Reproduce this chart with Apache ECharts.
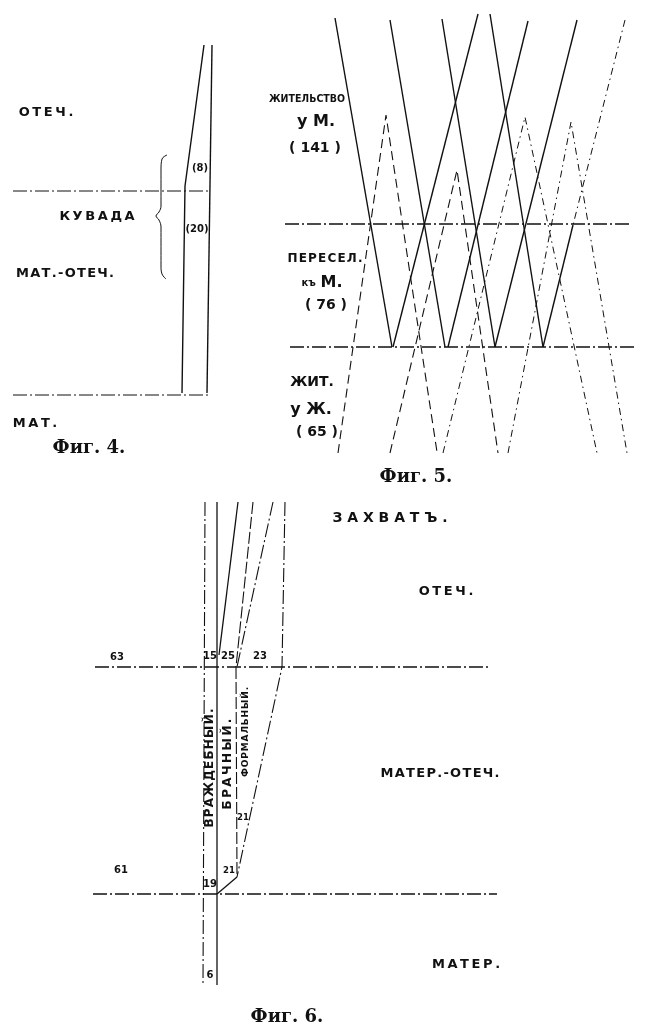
<!DOCTYPE html>
<html>
<head>
<meta charset="utf-8">
<script src="https://cdn.jsdelivr.net/npm/echarts@6/dist/echarts.min.js"></script>
<style>
html, body { margin: 0; padding: 0; background: #fff; }
#main { width: 652px; height: 1036px; }
</style>
</head>
<body>
<div id="main"></div>
<script>
// ---- Фиг. 4 ----
var fig4Solid = [
    [[212, 45], [207, 393]],
    [[204, 45], [185, 186], [182, 393]]
];
var fig4Rules = [
    [[13, 191], [210, 191]],
    [[13, 395], [208, 395]]
];
var fig4Brace = [[167, 155], [162, 159], [161, 170], [161, 206], [159, 212], [156, 216],
    [159, 220], [161, 227], [161, 266], [162, 274], [166, 279]];
var fig4Labels = [['ОТЕЧ.', 46, 113], ['КУВАДА', 97, 217], ['МАТ.', 35, 424]];
var fig4Tight = [['МАТ.-ОТЕЧ.', 65, 274]];
var fig4Counts = [['(8)', 200, 168], ['(20)', 197, 229]];

// ---- Фиг. 5 ----
var fig5Solid = [
    [[335, 18], [392, 347]],
    [[390, 20], [445, 347]],
    [[393, 347], [478, 14]],
    [[442, 19], [495, 347]],
    [[490, 14], [543, 347]],
    [[528, 21], [448, 347]],
    [[577, 20], [495, 347]],
    [[573, 225], [543, 347]]
];
var fig5DashDot = [
    [[625, 20], [573, 225]],
    [[443, 453], [525, 117], [597, 453]],
    [[508, 453], [571, 122], [627, 453]]
];
var fig5Dashed = [
    [[338, 453], [386, 115], [437, 452]],
    [[390, 453], [457, 170], [498, 453]]
];
var fig5Rules = [
    [[285, 224], [630, 224]],
    [[290, 347], [637, 347]]
];
var fig5Small = [['ЖИТЕЛЬСТВО', 307, 99]];
var fig5Mid = [['ПЕРЕСЕЛ.', 325, 259]];
var fig5Big = [['у М.', 316, 122], ['у Ж.', 311, 410]];
var fig5Counts = [['( 141 )', 315, 148], ['( 76 )', 326, 305], ['ЖИТ.', 312, 382], ['( 65 )', 317, 432]];
var fig5Rich = [['{s|къ} {b|М.}', 322, 283]];

// ---- Фиг. 6 ----
var fig6Solid = [
    [[217, 502], [217, 985]],
    [[238, 502], [219, 655]],
    [[237, 877], [217, 894]]
];
var fig6Dashed = [
    [[253, 502], [236, 667]],
    [[236, 667], [237, 877]]
];
var fig6DashDot = [
    [[205, 502], [203, 985]],
    [[273, 502], [237, 667]],
    [[285, 502], [282, 667], [237, 877]]
];
var fig6Rules = [
    [[95, 667], [490, 667]],
    [[93, 894], [497, 894]]
];
var fig6Titles = [['ЗАХВАТЪ.', 390, 518]];
var fig6Zones = [['ОТЕЧ.', 446, 592], ['МАТЕР.', 466, 965]];
var fig6ZonesTight = [['МАТЕР.-ОТЕЧ.', 440, 774]];
var fig6Numbers = [['63', 117, 657], ['15', 210, 656], ['25', 228, 656], ['23', 260, 656],
    ['61', 121, 870], ['19', 210, 884], ['6', 210, 975]];
var fig6Tiny = [['21', 243, 818], ['21', 229, 871]];
var fig6Vertical = [['ВРАЖДЕБНЫЙ.', 210, 768]];
var fig6VerticalWide = [['БРАЧНЫЙ.', 228, 764]];
var fig6VerticalSmall = [['ФОРМАЛЬНЫЙ.', 246, 732]];

var captions = [['Фиг. 4.', 89, 448], ['Фиг. 5.', 416, 477], ['Фиг. 6.', 287, 1017]];

var INK = '#111111';
var DASH = [9, 5];
var DASH_DOT = [14, 3, 2, 3];
var DASH_DOT_LIGHT = [7, 4, 1.5, 4];

function spaced(s, gap) {
    return s.split('').join(gap);
}

function lineSeries(list, type, width, smooth) {
    return list.map(function (pts) {
        return {
            type: 'line', data: pts, symbol: 'none', silent: true, animation: false,
            smooth: smooth || false, z: 2,
            lineStyle: { color: INK, width: width, type: type }
        };
    });
}

function textSeries(list, font, extra) {
    var label = {
        show: true, position: [0, 0], align: 'center', verticalAlign: 'middle',
        formatter: '{b}', color: INK, opacity: 1,
        fontFamily: font.family || 'DejaVu Sans', fontSize: font.size,
        fontWeight: font.weight || 'bold'
    };
    Object.assign(label, extra || {});
    return {
        type: 'scatter', silent: true, animation: false, symbolSize: 0, z: 5,
        itemStyle: { color: INK },
        data: list.map(function (l) {
            return { value: [l[1], l[2]], name: font.gap ? spaced(l[0], font.gap) : l[0] };
        }),
        label: label
    };
}

var series = [].concat(
    lineSeries(fig4Solid, 'solid', 1.4),
    lineSeries(fig4Rules, DASH_DOT, 1.2),
    lineSeries([fig4Brace], 'solid', 1, 0.4),
    lineSeries(fig5Solid, 'solid', 1.4),
    lineSeries(fig5DashDot, DASH_DOT_LIGHT, 1),
    lineSeries(fig5Dashed, DASH, 1.1),
    lineSeries(fig5Rules, DASH_DOT, 1.3),
    lineSeries(fig6Solid, 'solid', 1.3),
    lineSeries(fig6Dashed, [12, 3], 1.1),
    lineSeries(fig6DashDot, DASH_DOT, 1.1),
    lineSeries(fig6Rules, DASH_DOT, 1.3),
    [
        textSeries(fig4Labels, { size: 13, gap: '\u2009' }),
        textSeries(fig4Tight, { size: 13, gap: '\u200A' }),
        textSeries(fig4Counts, { size: 10 }),
        textSeries(fig5Small, { size: 10.5, family: 'DejaVu Sans Condensed' }),
        textSeries(fig5Mid, { size: 12, gap: '\u200A' }),
        textSeries(fig5Big, { size: 16 }),
        textSeries(fig5Counts, { size: 14 }),
        textSeries(fig5Rich, { size: 14 }, {
            formatter: fig5Rich[0][0],
            rich: {
                s: { fontSize: 10, fontWeight: 'bold', color: INK, fontFamily: 'DejaVu Sans' },
                b: { fontSize: 16, fontWeight: 'bold', color: INK, fontFamily: 'DejaVu Sans' }
            }
        }),
        textSeries(fig6Titles, { size: 14, gap: ' ' }),
        textSeries(fig6Zones, { size: 13, gap: '\u2009' }),
        textSeries(fig6ZonesTight, { size: 13, gap: '\u200A' }),
        textSeries(fig6Numbers, { size: 10 }),
        textSeries(fig6Tiny, { size: 8.5 }),
        textSeries(fig6Vertical, { size: 12, gap: '\u200A' }, { rotate: 90 }),
        textSeries(fig6VerticalWide, { size: 12, gap: '\u2009' }, { rotate: 90 }),
        textSeries(fig6VerticalSmall, { size: 9, gap: '\u200A' }, { rotate: 90 }),
        textSeries(captions, { size: 18, family: 'DejaVu Serif' })
    ]
);

var myChart = echarts.init(document.getElementById('main'), null, { renderer: 'canvas' });
myChart.setOption({
    backgroundColor: '#ffffff',
    animation: false,
    grid: { left: 0, right: 0, top: 0, bottom: 0 },
    xAxis: { type: 'value', min: 0, max: 652, show: false },
    yAxis: { type: 'value', min: 0, max: 1036, inverse: true, show: false },
    series: series
});
</script>
</body>
</html>
